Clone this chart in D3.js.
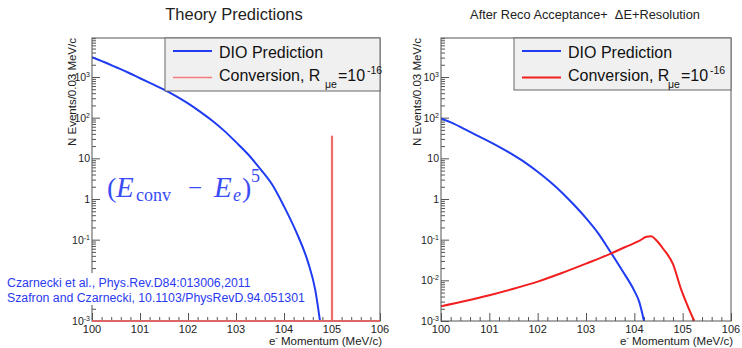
<!DOCTYPE html>
<html><head><meta charset="utf-8">
<script src="https://cdn.jsdelivr.net/npm/d3@7"></script>
<style>
body{margin:0;background:#fff}
svg{display:block;font-family:"Liberation Sans",Arial,Helvetica,sans-serif}
</style>
</head><body>
<svg id="c" width="742" height="348"></svg>
<script>
// ---------- data ----------
const momentumTicks = [100, 101, 102, 103, 104, 105, 106];
const yTickValues = [1e-3, 1e-2, 1e-1, 1, 10, 100, 1000];
const yTickBase   = ["10", "10", "10", "1", "10", "10", "10"];
const yTickExp    = ["-3", "-2", "-1", "", "", "2", "3"];

// Left panel: theory predictions
const dioTheoryE = [100.00,100.25,100.50,100.75,101.00,101.25,101.50,101.75,102.00,102.25,102.50,102.75,103.00,103.25,103.50,103.75,104.00,104.25,104.50,104.65,104.75];
const dioTheoryN = [3090,2340,1740,1290,933,676,490,339,224,141,85,48,25,12.6,5.6,2.3,0.66,0.16,0.028,0.0059,0.001];
const convTheoryE = [100.0, 105.0, 106.0];
const convTheoryN = [0, 34, 0];

// Right panel: after reco acceptance + dE + resolution
const dioRecoE = [100.00,100.25,100.50,100.75,101.00,101.25,101.50,101.75,102.00,102.25,102.50,102.75,103.00,103.25,103.50,103.75,104.00,104.10,104.20];
const dioRecoN = [95.5,72.4,51.3,36.3,25.7,17.8,12.0,7.76,4.68,2.69,1.45,0.72,0.339,0.145,0.0513,0.0174,0.0055,0.0030,0.001];
const convRecoE = [100.00,100.50,101.00,101.50,102.00,102.50,103.00,103.50,103.80,104.10,104.25,104.35,104.45,104.60,104.80,104.97,105.10,105.24];
const convRecoN = [0.0023,0.0031,0.0043,0.0062,0.0093,0.0151,0.0257,0.0447,0.065,0.093,0.118,0.122,0.098,0.059,0.025,0.0059,0.0024,0.001];

const titles = ["Theory Predictions", "After Reco Acceptance+  \u0394E+Resolution"];
const yTitle = "N Events/0.03 MeV/c";
const citations = ["Czarnecki et al., Phys.Rev.D84:013006,2011", "Szafron and Czarnecki, 10.1103/PhysRevD.94.051301"];

// ---------- drawing ----------
const svg = d3.select("#c");
const BLUE = "#1f3cf2", RED = "#f21f1f", PINK = "#f06a6a", FRAME = "#555";
const yMin = 1e-3, yMax = 9100;
const plotTop = 38, plotBottom = 321;

function panel(cfg) {
  const g = svg.append("g");
  const x = d3.scaleLinear().domain([100, 106]).range([cfg.l, cfg.r]);
  const y = d3.scaleLog().domain([yMin, yMax]).range([plotBottom, plotTop]);
  const clipId = "clip" + cfg.id;
  svg.append("clipPath").attr("id", clipId).append("rect")
    .attr("x", cfg.l).attr("y", plotTop).attr("width", cfg.r - cfg.l).attr("height", plotBottom - plotTop + 1);

  // ticks
  const minorY = [];
  for (let k = -3; k <= 3; k++) for (let m = 2; m <= 9; m++) { const v = m * Math.pow(10, k); if (v <= yMax) minorY.push(v); }
  const minorX = d3.range(100, 106.001, 0.2).filter(v => Math.abs(v - Math.round(v)) > 1e-6);
  const tickStyle = s => s.call(a => a.select(".domain").remove())
    .selectAll("line").attr("stroke", FRAME).attr("stroke-width", 1);
  g.append("g").attr("transform", `translate(${cfg.l},0)`)
    .call(d3.axisLeft(y).tickValues(minorY).tickSize(-4).tickFormat("")).call(tickStyle);
  g.append("g").attr("transform", `translate(${cfg.l},0)`)
    .call(d3.axisLeft(y).tickValues(yTickValues).tickSize(-8).tickFormat("")).call(tickStyle);
  g.append("g").attr("transform", `translate(0,${plotBottom})`)
    .call(d3.axisBottom(x).tickValues(minorX).tickSize(-4).tickFormat("")).call(tickStyle);
  g.append("g").attr("transform", `translate(0,${plotBottom})`)
    .call(d3.axisBottom(x).tickValues(momentumTicks).tickSize(-8).tickFormat("")).call(tickStyle);

  // tick labels
  momentumTicks.forEach(v => {
    g.append("text").attr("x", x(v)).attr("y", 333).attr("text-anchor", "middle")
      .attr("font-size", 11).attr("fill", "#222").text(v);
  });
  yTickValues.forEach((v, i) => {
    if (cfg.hideY && cfg.hideY.includes(v)) return;
    const t = g.append("text").attr("x", cfg.l - 2).attr("y", y(v) + 4).attr("text-anchor", "end")
      .attr("font-size", 10.5).attr("fill", "#222");
    t.append("tspan").text(yTickBase[i]);
    if (yTickExp[i]) t.append("tspan").attr("dy", -4).attr("font-size", 7).text(yTickExp[i]);
  });

  // axis titles
  g.append("text").attr("transform", `translate(${cfg.l - cfg.ytOff},${plotTop}) rotate(-90)`)
    .attr("text-anchor", "end").attr("font-size", 11.5).attr("fill", "#222").text(yTitle);
  const xt = g.append("text").attr("x", cfg.r + 2).attr("y", 345).attr("text-anchor", "end")
    .attr("font-size", 11.5).attr("fill", "#222");
  xt.append("tspan").text("e");
  xt.append("tspan").attr("dy", -5).attr("font-size", 7).text("-");
  xt.append("tspan").attr("dy", 5).text(" Momentum (MeV/c)");

  // curves
  const line = d3.line().x(d => x(d[0])).y(d => y(Math.max(d[1], yMin))).curve(d3.curveMonotoneX);
  const cg = g.append("g").attr("clip-path", `url(#${clipId})`);
  cfg.curves.forEach(c => {
    let path;
    if (c.spike) {
      const p = d3.path();
      p.moveTo(x(c.E[0]), y(yMin));
      c.E.forEach((e, i) => {
        p.lineTo(x(e), y(yMin));
        if (c.N[i] > 0) { p.lineTo(x(e), y(c.N[i])); p.lineTo(x(e), y(yMin)); }
      });
      path = p.toString();
    } else {
      path = line(c.E.map((e, i) => [e, c.N[i]]));
    }
    cg.append("path").attr("d", path).attr("fill", "none")
      .attr("stroke", c.color).attr("stroke-width", c.w).attr("stroke-linejoin", "round");
  });

  // frame
  g.append("rect").attr("x", cfg.l).attr("y", plotTop).attr("width", cfg.r - cfg.l).attr("height", plotBottom - plotTop)
    .attr("fill", "none").attr("stroke", FRAME).attr("stroke-width", 1);
  if (cfg.redBase) g.append("line").attr("x1", cfg.l).attr("x2", cfg.r).attr("y1", plotBottom).attr("y2", plotBottom)
    .attr("stroke", PINK).attr("stroke-width", 1.5);

  // legend
  const lg = g.append("g");
  const lx = cfg.legX;
  lg.append("rect").attr("x", lx).attr("y", plotTop).attr("width", cfg.r - lx).attr("height", cfg.legH)
    .attr("fill", "#f0f0f0").attr("stroke", "#666").attr("stroke-width", 1);
  lg.append("line").attr("x1", lx + 8).attr("x2", lx + 47).attr("y1", 51).attr("y2", 51)
    .attr("stroke", BLUE).attr("stroke-width", 2);
  lg.append("line").attr("x1", lx + 8).attr("x2", lx + 47).attr("y1", 77.5).attr("y2", 77.5)
    .attr("stroke", cfg.convColor).attr("stroke-width", cfg.convW);
  lg.append("text").attr("x", lx + 54).attr("y", 58).attr("font-size", 16).attr("fill", "#111").text("DIO Prediction");
  lg.append("text").attr("x", lx + 54).attr("y", 81).attr("font-size", 16).attr("fill", "#111").text("Conversion, R");
  lg.append("text").attr("x", lx + cfg.muX).attr("y", 88).attr("font-size", 10.5).attr("fill", "#111").text("\u03bce");
  lg.append("text").attr("x", lx + cfg.muX + 13).attr("y", 81).attr("font-size", 16).attr("fill", "#111").text("=10");
  lg.append("text").attr("x", lx + cfg.muX + 42).attr("y", 74).attr("font-size", 10.5).attr("fill", "#111").text("-16");

  // title
  g.append("text").attr("x", cfg.titleX).attr("y", cfg.titleY).attr("text-anchor", "middle")
    .attr("font-size", cfg.titleSize).attr("fill", "#222").style("white-space", "pre").text(cfg.title);
  return {x, y, g};
}

const L = panel({id: 0, l: 92, r: 380, legX: 165, legH: 53, convColor: "#f27c7c", convW: 1.5, redBase: true,
  title: titles[0], titleX: 234, titleY: 20, titleSize: 16.5, ytOff: 16, muX: 160, hideY: [1e-2],
  curves: [
    {E: dioTheoryE, N: dioTheoryN, color: BLUE, w: 2},
    {E: convTheoryE, N: convTheoryN, color: PINK, w: 2.2, spike: true}
  ]});

const R = panel({id: 1, l: 441, r: 731, legX: 514, legH: 52, convColor: RED, convW: 2, redBase: false,
  title: titles[1], titleX: 585, titleY: 19, titleSize: 12.8, ytOff: 20, muX: 154,
  curves: [
    {E: dioRecoE, N: dioRecoN, color: BLUE, w: 2},
    {E: convRecoE, N: convRecoN, color: RED, w: 2}
  ]});

// annotation formula (E_conv - E_e)^5
const fs = svg.append("g").attr("fill", "#3a4cf5")
  .attr("font-family", "'Liberation Serif','DejaVu Serif',serif");
const ftxt = (x, y, size, italic, s) => fs.append("text").attr("x", x).attr("y", y)
  .attr("font-size", size).attr("font-style", italic ? "italic" : "normal").text(s);
ftxt(107, 197, 28, false, "(");
ftxt(116, 197, 29, true, "E");
ftxt(136, 201, 18, false, "conv");
ftxt(188, 196, 25, false, "\u2212");
ftxt(214, 197, 29, true, "E");
ftxt(233, 201, 18, true, "e");
ftxt(242, 197, 28, false, ")");
ftxt(251, 182, 18, false, "5");

// citations, drawn on a white box that hides the axis behind them
svg.append("rect").attr("x", 0).attr("y", 273).attr("width", 305).attr("height", 32).attr("fill", "#fff");
citations.forEach((c, i) => {
  svg.append("text").attr("x", 7).attr("y", 287 + i * 15).attr("font-size", 12.3).attr("fill", "#2a3af0").text(c);
});
</script>
</body></html>
